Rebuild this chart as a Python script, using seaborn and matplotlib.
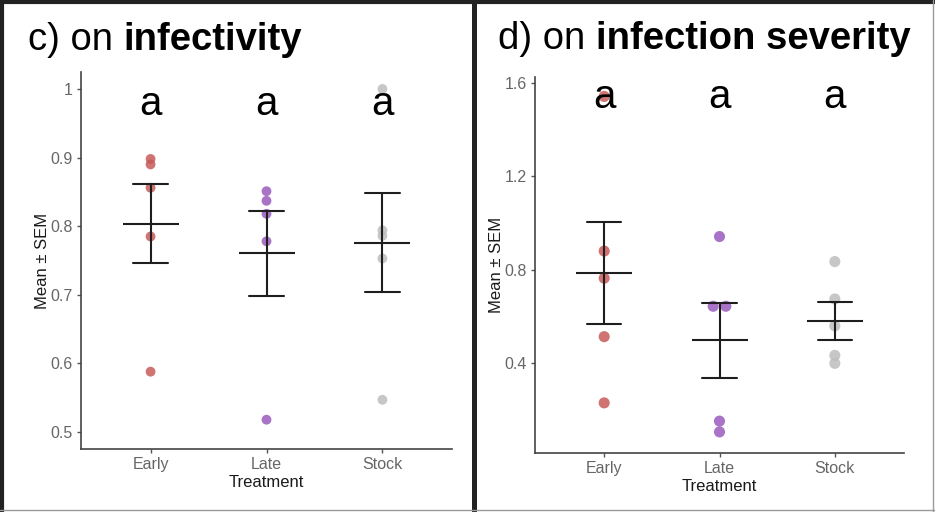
import matplotlib

matplotlib.use("Agg")

import matplotlib.pyplot as plt
import numpy as np
import pandas as pd
import seaborn as sns
from matplotlib.lines import Line2D

TREATMENTS = ["Early", "Late", "Stock"]
PALETTE = {"Early": "#c75a5a", "Late": "#9a5cbd", "Stock": "#bdbdbd"}

# c) infectivity
early_infectivity = [0.898, 0.890, 0.856, 0.785, 0.588]
late_infectivity = [0.851, 0.837, 0.818, 0.778, 0.518]
stock_infectivity = [1.000, 0.794, 0.786, 0.753, 0.547]

# d) infection severity
early_severity = [1.541, 0.880, 0.764, 0.514, 0.231]
late_severity = [0.942, 0.644, 0.644, 0.153, 0.107]
stock_severity = [0.835, 0.675, 0.560, 0.434, 0.400]

letters = ["a", "a", "a"]

W, H = 935, 512


def build_frame(early, late, stock):
    df = pd.DataFrame({
        "Treatment": np.repeat(TREATMENTS, [len(early), len(late), len(stock)]),
        "value": early + late + stock,
    })
    df["code"] = df["Treatment"].map({t: i for i, t in enumerate(TREATMENTS)}).astype(float)
    # exact ties get nudged sideways (beeswarm-like)
    grp = df.groupby(["Treatment", "value"])
    rank = grp.cumcount()
    n = grp["value"].transform("size")
    df["pos"] = df["code"] + (rank - (n - 1) / 2) * 0.11
    return df


def draw_panel(fig, rect_px, df, ylim, yticks, yticklabels, letter_y, point_size):
    x0, y0, x1, y1 = rect_px
    ax = fig.add_axes([x0 / W, 1 - y1 / H, (x1 - x0) / W, (y1 - y0) / H])
    sns.scatterplot(
        data=df, x="pos", y="value", hue="Treatment", palette=PALETTE,
        s=point_size, alpha=0.85, edgecolor="none", linewidth=0,
        legend=False, ax=ax,
    )
    sns.pointplot(
        data=df, x="code", y="value", native_scale=True, errorbar="se",
        capsize=0.3, color="#1e1e1e", linestyle="none", marker="_",
        markersize=41, markeredgewidth=1.5, err_kws={"linewidth": 1.5}, ax=ax,
    )
    for i, letter in enumerate(letters):
        ax.text(i, letter_y, letter, ha="center", va="baseline", fontsize=29, color="black")

    ax.set_xlim(-0.6, 2.6)
    ax.set_ylim(*ylim)
    ax.set_xticks(range(len(TREATMENTS)))
    ax.set_xticklabels(TREATMENTS)
    ax.set_yticks(yticks)
    ax.set_yticklabels(yticklabels)
    ax.set_xlabel("Treatment", fontsize=12, color="#1a1a1a", labelpad=2)
    ax.set_ylabel("Mean ± SEM", fontsize=12, color="#1a1a1a", labelpad=0)
    ax.tick_params(axis="both", direction="out", length=3, width=1, color="#555555",
                   labelcolor="#666666", labelsize=11.5, pad=3)
    for side in ["top", "right"]:
        ax.spines[side].set_visible(False)
    for side in ["left", "bottom"]:
        ax.spines[side].set_color("#444444")
        ax.spines[side].set_linewidth(1.2)
    ax.grid(False)
    return ax


def panel_title(ax, x_px, y_px, prefix, bold):
    t = ax.figure.text(x_px / W, 1 - y_px / H, prefix, fontsize=27.5,
                       va="baseline", ha="left", color="black")
    ax.annotate(bold, xy=(1, 0), xycoords=t, va="bottom", ha="left", color="black",
                fontsize=27.5, fontweight="bold", annotation_clip=False)


sns.set_style("ticks")
plt.rcParams["font.family"] = ["Liberation Sans", "DejaVu Sans"]

fig = plt.figure(figsize=(W / 100, H / 100), dpi=100)

inf_df = build_frame(early_infectivity, late_infectivity, stock_infectivity)
sev_df = build_frame(early_severity, late_severity, stock_severity)

ax_c = draw_panel(fig, (81, 72, 452, 449), inf_df, (0.4753, 1.0247),
                  [0.5, 0.6, 0.7, 0.8, 0.9, 1.0], ["0.5", "0.6", "0.7", "0.8", "0.9", "1"],
                  0.962, 50)
ax_d = draw_panel(fig, (535, 77, 904, 452.7), sev_df, (0.018, 1.624),
                  [0.4, 0.8, 1.2, 1.6], ["0.4", "0.8", "1.2", "1.6"],
                  1.492, 64)

panel_title(ax_c, 28, 50, "c) on ", "infectivity")
panel_title(ax_d, 498, 49, "d) on ", "infection severity")

# panel frames
frame_lines = [
    ([0, 1], [1 - 2 / H, 1 - 2 / H], "#222222", 3.0),
    ([2 / W, 2 / W], [0, 1], "#222222", 3.0),
    ([474.5 / W, 474.5 / W], [0, 1], "#222222", 3.6),
    ([933 / W, 933 / W], [0, 1], "#9a9a9a", 1.0),
    ([0, 1], [1 - 510 / H, 1 - 510 / H], "#9a9a9a", 1.0),
]
for xs, ys, color, lw in frame_lines:
    fig.add_artist(Line2D(xs, ys, transform=fig.transFigure, color=color, linewidth=lw))

fig.savefig("out.png", dpi=100)
